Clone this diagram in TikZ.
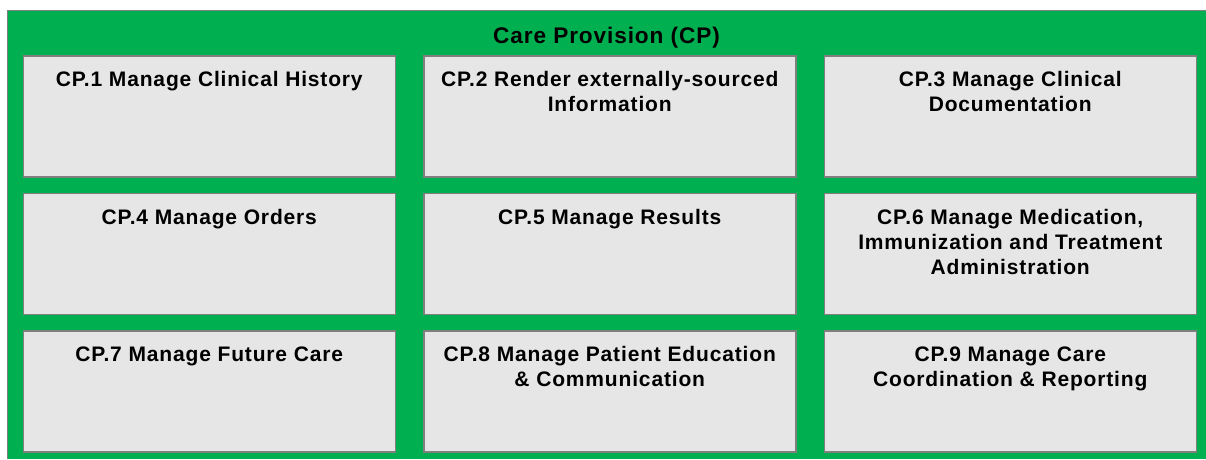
\documentclass[tikz,border=0pt]{standalone}
\usepackage{fontspec}
\setmainfont{Liberation Sans}[LetterSpace=4]
\usetikzlibrary{positioning, calc}
\definecolor{cpgreen}{HTML}{00B050}
\definecolor{boxgray}{HTML}{E6E6E6}
\definecolor{edgegray}{HTML}{7F7F7F}
\tikzset{
    carediagram/.style={x=1pt, y=-1pt, font=\bfseries\fontsize{21}{25}\selectfont, node distance=15pt and 27pt},
    area/.style={fill=cpgreen},
    areaedge/.style={draw=edgegray, line width=1.5pt},
    fnbox/.style={draw=edgegray, line width=1.5pt, fill=boxgray, minimum width=372pt, minimum height=121pt},
    % function name: hangs from the top edge of its box
    fnname/.style={anchor=north, align=center, inner sep=0pt, yshift=-16pt},
}
\begin{document}
\begin{tikzpicture}[carediagram]
        \useasboundingbox (0,0) rectangle (1206,459);
        \fill[area] (7.3,10.3) rectangle (1206,459);
        \draw[areaedge] (7.3,459) -- (7.3,10.3) -- (1206,10.3);
        \node[anchor=base, inner sep=0pt, font=\bfseries\fontsize{22.6}{26}\selectfont] (title) at (606.5,43.3) {Care Provision (CP)};

        \node[fnbox]                 (cp1) at (209.25,116.7) {};
        \node[fnbox, right=of cp1]   (cp2) {};
        \node[fnbox, right=of cp2]   (cp3) {};
        \node[fnbox, below=of cp1]   (cp4) {};
        \node[fnbox, right=of cp4]   (cp5) {};
        \node[fnbox, right=of cp5]   (cp6) {};
        \node[fnbox, below=of cp4]   (cp7) {};
        \node[fnbox, right=of cp7]   (cp8) {};
        \node[fnbox, right=of cp8]   (cp9) {};

        % names of the functions
        \node[fnname] (n1) at (cp1.north) {CP.1 Manage Clinical History};
        \node[fnname] (n2) at (cp2.north) {CP.2 Render externally-sourced\\Information};
        \node[fnname] (n3) at (cp3.north) {CP.3 Manage Clinical\\Documentation};
        \node[fnname] (n4) at (cp4.north) {CP.4 Manage Orders};
        \node[fnname] (n5) at (cp5.north) {CP.5 Manage Results};
        \node[fnname] (n6) at (cp6.north) {CP.6 Manage Medication,\\Immunization and Treatment\\Administration};
        \node[fnname] (n7) at (cp7.north) {CP.7 Manage Future Care};
        \node[fnname] (n8) at (cp8.north) {CP.8 Manage Patient Education\\\& Communication};
        \node[fnname] (n9) at (cp9.north) {CP.9 Manage Care\\Coordination \& Reporting};
    \end{tikzpicture}
\end{document}
